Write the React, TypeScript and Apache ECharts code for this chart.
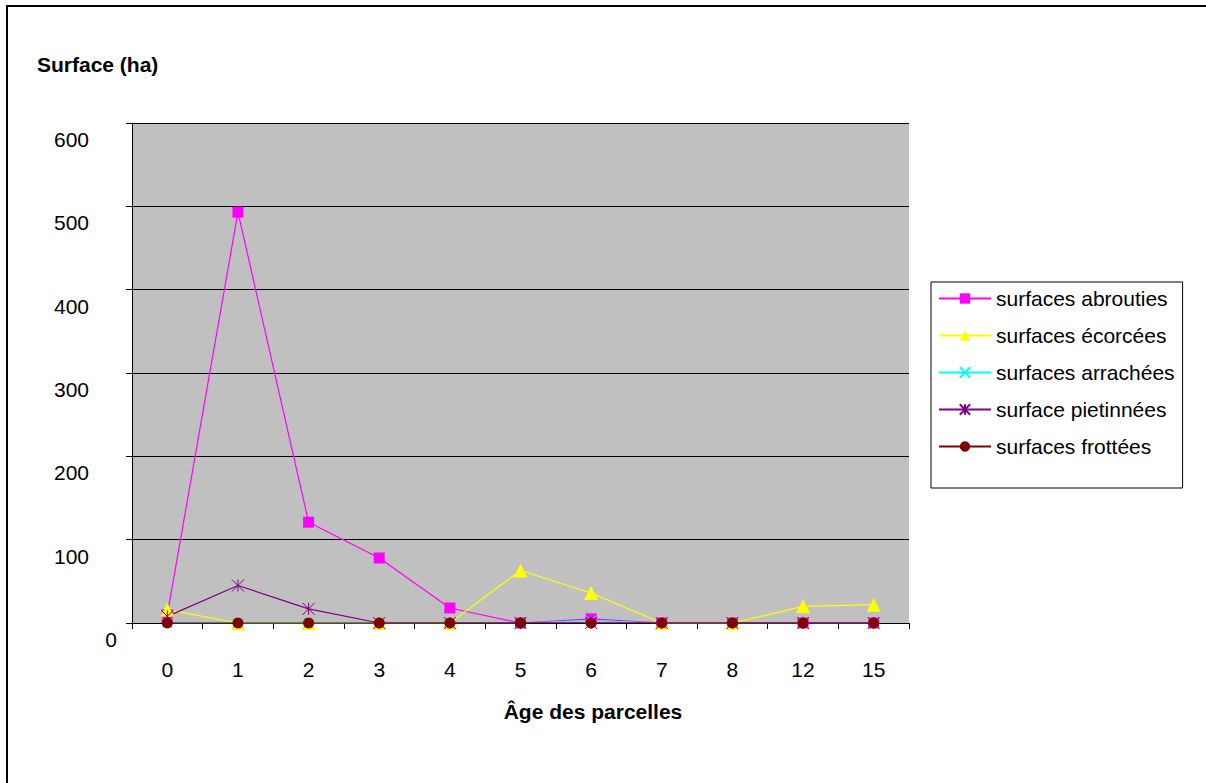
import React, { useEffect, useRef } from "react";
import * as echarts from "echarts";

const categories = ["0", "1", "2", "3", "4", "5", "6", "7", "8", "12", "15"];
const abrouties = [10, 493, 121, 78, 18, 0, 5, 0, 0, 0, 0];
const ecorcees = [16, 0, 0, 0, 0, 63, 36, 0, 0, 20, 22];
const arrachees = [0, 0, 0, 0, 0, 0, 3, 0, 0, 0, 0];
const pietinnees = [8, 45, 17, 0, 0, 0, 0, 0, 0, 0, 0];
const frottees = [0, 0, 0, 0, 0, 0, 0, 0, 0, 0, 0];
const yTicks = [0, 100, 200, 300, 400, 500, 600];

const FONT = "'Liberation Sans', Arial, sans-serif";

export default function App() {
  const ref = useRef<HTMLDivElement>(null);
  useEffect(() => {
    if (!ref.current) return;
    const chart = echarts.init(ref.current, undefined, { renderer: "svg" });
    const crossPath = "path://M0 0 L10 10 M10 0 L0 10";
    const starPath = "path://M0 0 L10 10 M10 0 L0 10 M5 0 L5 10";
    const mk = (name: string, data: number[], color: string, symbol: string, size: number, extra: any = {}) => ({
      name,
      type: "line",
      data,
      symbol,
      symbolSize: size,
      lineStyle: { color, width: 1.2 },
      itemStyle: { color, ...extra },
      emphasis: { disabled: true },
    });
    chart.setOption({
      animation: false,
      backgroundColor: "#fff",
      textStyle: { fontFamily: FONT },
      title: {
        text: "Surface (ha)",
        left: 37,
        top: 54,
        padding: 0,
        textStyle: { fontFamily: FONT, fontSize: 21, fontWeight: "bold", color: "#000" },
      },
      graphic: [
        {
          type: "rect",
          shape: { x: 7, y: 6, width: 1220, height: 820 },
          style: { fill: "none", stroke: "#000", lineWidth: 2 },
          silent: true,
        },
      ],
      legend: {
        orient: "vertical",
        left: 931,
        top: 282,
        padding: [6, 8, 31, 7],
        itemGap: 16,
        itemWidth: 52,
        itemHeight: 13,
        borderColor: "#000",
        borderWidth: 1,
        backgroundColor: "#fff",
        textStyle: { fontFamily: FONT, fontSize: 21, color: "#000", lineHeight: 21 },
        data: ["surfaces abrouties", "surfaces écorcées", "surfaces arrachées", "surface pietinnées", "surfaces frottées"],
      },
      grid: { left: 132, top: 123, right: 297, bottom: 160, show: true, backgroundColor: "#C0C0C0", borderWidth: 0 },
      xAxis: {
        type: "category",
        data: categories,
        boundaryGap: true,
        name: "Âge des parcelles",
        nameLocation: "middle",
        nameGap: 78,
        nameTextStyle: { fontFamily: FONT, fontSize: 21, fontWeight: "bold", color: "#000", padding: [0, 0, 0, 145] },
        axisLine: { lineStyle: { color: "#000", width: 1 } },
        axisTick: { show: true, inside: false, length: 6, lineStyle: { color: "#000" } },
        axisLabel: { fontFamily: FONT, fontSize: 21, color: "#000", margin: 36 },
        splitLine: { show: false },
      },
      yAxis: {
        type: "value",
        min: 0,
        max: 600,
        interval: 100,
        axisLine: { show: true, lineStyle: { color: "#000", width: 1 } },
        axisTick: { show: true, inside: false, length: 6, lineStyle: { color: "#000" } },
        splitLine: { show: true, lineStyle: { color: "#000", width: 1 } },
        axisLabel: {
          margin: 15,
          formatter: (v: number) => (yTicks.indexOf(v) >= 0 ? (v === 0 ? `{z|${v}}` : `{n|${v}}`) : ""),
          rich: {
            n: { fontFamily: FONT, fontSize: 21, color: "#000", padding: [33, 28, 0, 0] },
            z: { fontFamily: FONT, fontSize: 21, color: "#000", padding: [33, 0, 0, 0] },
          },
        },
      },
      series: [
        mk("surfaces abrouties", abrouties, "#FF00FF", "rect", 11),
        mk("surfaces écorcées", ecorcees, "#FFFF00", "triangle", 14),
        mk("surfaces arrachées", arrachees, "#00FFFF", crossPath, 10, { borderColor: "#00FFFF", borderWidth: 1 }),
        mk("surface pietinnées", pietinnees, "#800080", starPath, 12, { borderColor: "#800080", borderWidth: 1 }),
        mk("surfaces frottées", frottees, "#800000", "circle", 11),
      ],
    });
    return () => chart.dispose();
  }, []);
  return (
    <div
      ref={ref}
      style={{ position: "absolute", left: 0, top: 0, width: 1206, height: 783, background: "#fff" }}
    />
  );
}
